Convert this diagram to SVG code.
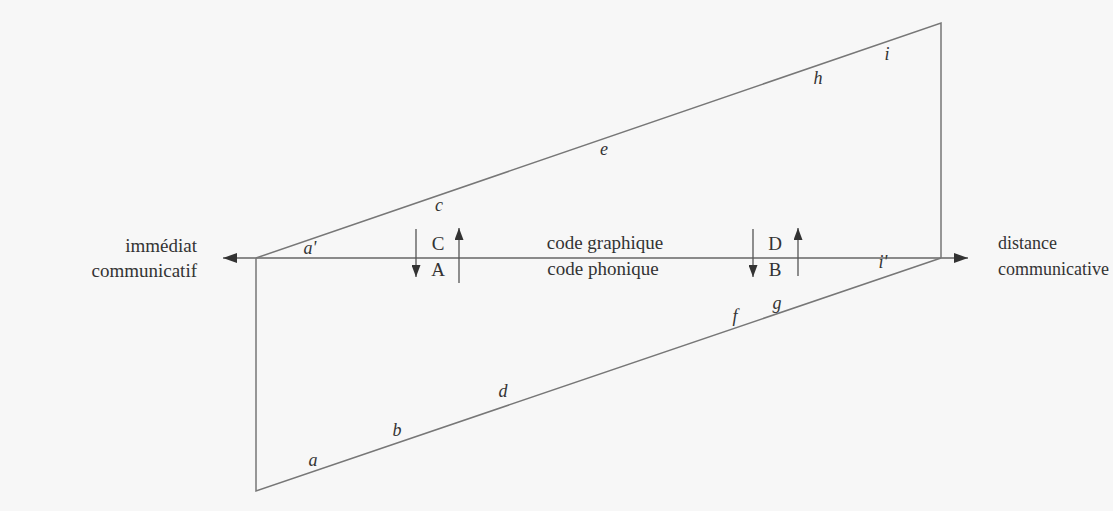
<svg xmlns="http://www.w3.org/2000/svg" width="1113" height="511" viewBox="0 0 1113 511">
  <defs>
    <marker id="ah" viewBox="0 0 14 10" refX="14" refY="5" markerWidth="14" markerHeight="10" markerUnits="userSpaceOnUse" orient="auto">
      <path d="M0,0 L14,5 L0,10 Z" fill="#333"/>
    </marker>
    <marker id="ahs" viewBox="0 0 12 9" refX="12" refY="4.5" markerWidth="12" markerHeight="9" markerUnits="userSpaceOnUse" orient="auto">
      <path d="M0,0 L12,4.5 L0,9 Z" fill="#333"/>
    </marker>
  </defs>
  <style>
    .ln { stroke: #777; stroke-width: 1.5; fill: none; }
    .ax { stroke: #666; stroke-width: 1.5; fill: none; }
    .va { stroke: #555; stroke-width: 1.3; fill: none; }
    .t { font-family: "Liberation Serif", "Times New Roman", serif; font-size: 19px; fill: #333; }
    .tr { font-family: "Liberation Serif", "Times New Roman", serif; font-size: 18px; fill: #333; }
    .it { font-family: "Liberation Serif", "Times New Roman", serif; font-size: 18px; font-style: italic; fill: #333; }
  </style>
  <rect width="1113" height="511" fill="#f7f7f7"/>

  <g id="connectors">
    <line class="ax" x1="256" y1="258" x2="223" y2="258" marker-end="url(#ah)"/>
    <line class="ax" x1="256" y1="258" x2="941" y2="258"/>
    <line class="ax" x1="941" y1="258" x2="968" y2="258" marker-end="url(#ah)"/>
    <line class="va" x1="416" y1="229" x2="416" y2="277" marker-end="url(#ahs)"/>
    <line class="va" x1="459" y1="283" x2="459" y2="228" marker-end="url(#ahs)"/>
    <line class="va" x1="753" y1="229" x2="753" y2="277" marker-end="url(#ahs)"/>
    <line class="va" x1="798" y1="276" x2="798" y2="228" marker-end="url(#ahs)"/>
  </g>

  <g id="parallelogram">
    <path class="ln" d="M256,258 L941,23 L941,258 M256,258 L256,491 L941,258"/>
  </g>

  <g id="node-immediat">
    <text class="t" x="197" y="252" text-anchor="end">immédiat</text>
    <text class="t" x="197" y="277" text-anchor="end">communicatif</text>
  </g>
  <g id="node-distance">
    <text class="tr" x="998" y="249">distance</text>
    <text class="tr" x="998" y="275">communicative</text>
  </g>
  <g id="node-code">
    <text class="t" x="605" y="249" text-anchor="middle">code graphique</text>
    <text class="t" x="603" y="275" text-anchor="middle">code phonique</text>
  </g>
  <g id="node-CA">
    <text class="t" x="438" y="250" text-anchor="middle">C</text>
    <text class="t" x="438" y="276" text-anchor="middle">A</text>
  </g>
  <g id="node-DB">
    <text class="t" x="775" y="250" text-anchor="middle">D</text>
    <text class="t" x="775" y="276" text-anchor="middle">B</text>
  </g>

  <g id="labels">
    <text class="it" x="310" y="254" text-anchor="middle">a'</text>
    <text class="it" x="439" y="211" text-anchor="middle">c</text>
    <text class="it" x="604" y="155" text-anchor="middle">e</text>
    <text class="it" x="818" y="84" text-anchor="middle">h</text>
    <text class="it" x="887" y="60" text-anchor="middle">i</text>
    <text class="it" x="883" y="268" text-anchor="middle">i'</text>
    <text class="it" x="777" y="309" text-anchor="middle">g</text>
    <text class="it" x="735" y="322" text-anchor="middle">f</text>
    <text class="it" x="503" y="397" text-anchor="middle">d</text>
    <text class="it" x="397" y="436" text-anchor="middle">b</text>
    <text class="it" x="313" y="466" text-anchor="middle">a</text>
  </g>
</svg>
